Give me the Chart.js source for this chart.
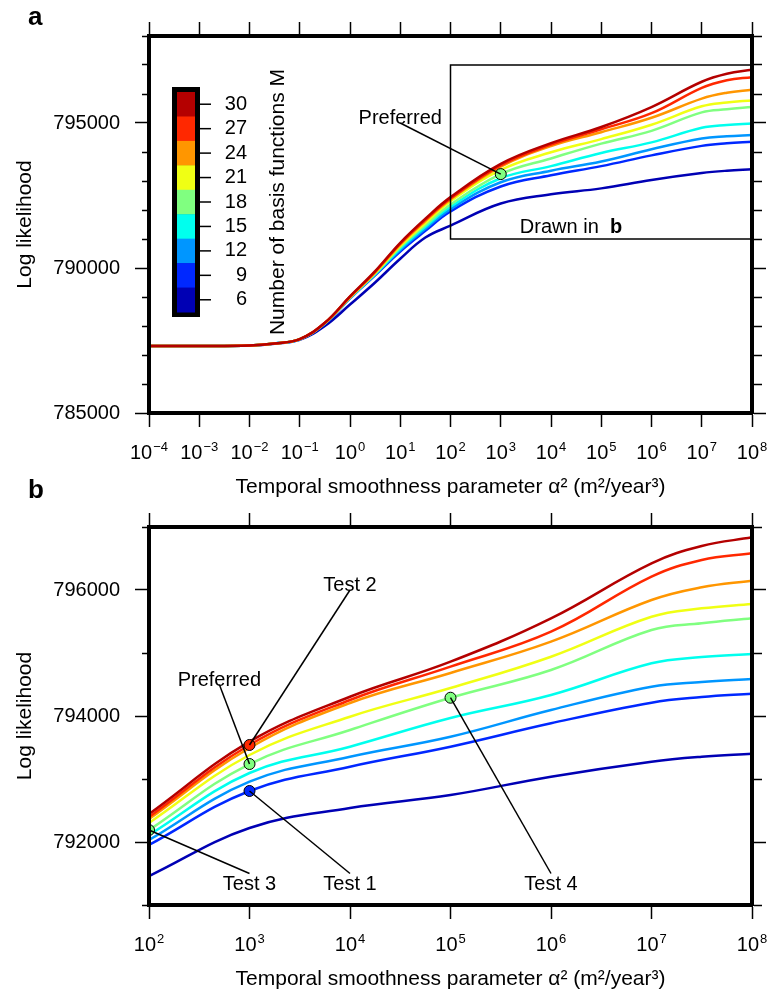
<!DOCTYPE html>
<html>
<head>
<meta charset="utf-8">
<script src="https://cdn.jsdelivr.net/npm/chart.js@4.4.0/dist/chart.umd.min.js"></script>
<style>
  body { margin: 0; background: #fff; }
  #wrap { position: relative; width: 771px; height: 994px; }
  canvas { position: absolute; left: 0; }
  #chartA { top: 0; }
  #chartB { top: 470px; }
</style>
</head>
<body>
<div id="wrap">
  <canvas id="chartA" width="771" height="510"></canvas>
  <canvas id="chartB" width="771" height="524"></canvas>
</div>
<script>
const FONT = "'Liberation Sans', Arial, Helvetica, sans-serif";

// temporal smoothness parameter alpha^2 (m^2/year^3) where the curves were read
const alpha = [1e-4, 1e-3, 1e-2, 0.0316, 0.1, 0.316, 1, 3.16, 10, 31.6, 100, 1e3, 1e4, 1e5, 1e6, 1e7, 3.16e7, 1e8];

// number of basis functions M, top of colour bar first
const basisM = [30, 27, 24, 21, 18, 15, 12, 9, 6];
const colors = ['#b40000', '#ff2800', '#ff9600', '#f0ff14', '#80ff80', '#00ffee', '#0096ff', '#0028ff', '#0000b4'];

// log likelihood for each M
const ll30 = [787310, 787312, 787330, 787400, 787550, 788110, 789020, 789890, 790870, 791700, 792444, 793592, 794306, 794862, 795550, 796423, 796698, 796836];
const ll27 = [787310, 787312, 787330, 787400, 787550, 788110, 789010, 789870, 790840, 791660, 792397, 793540, 794254, 794783, 795338, 796212, 796476, 796582];
const ll24 = [787310, 787312, 787330, 787400, 787550, 788105, 789000, 789850, 790810, 791620, 792365, 793492, 794206, 794683, 795180, 795841, 796043, 796148];
const ll21 = [787310, 787312, 787330, 787400, 787548, 788100, 788990, 789830, 790760, 791550, 792302, 793381, 793989, 794444, 794941, 795576, 795709, 795778];
const ll18 = [787310, 787312, 787330, 787400, 787546, 788095, 788980, 789810, 790720, 791480, 792190, 793238, 793778, 794290, 794730, 795365, 795471, 795551];
const ll15 = [787310, 787312, 787330, 787398, 787544, 788090, 788970, 789790, 790670, 791420, 792111, 793095, 793513, 793968, 794333, 794836, 794935, 794984];
const ll12 = [787310, 787312, 787330, 787396, 787542, 788085, 788960, 789770, 790620, 791350, 792032, 792957, 793354, 793671, 794095, 794465, 794540, 794587];
const ll9  = [787310, 787312, 787330, 787394, 787540, 788080, 788950, 789750, 790570, 791280, 791952, 792810, 793195, 793513, 793884, 794211, 794300, 794354];
const ll6  = [787310, 787312, 787328, 787390, 787520, 788000, 788740, 789500, 790320, 791050, 791460, 792222, 792540, 792746, 793037, 793275, 793354, 793402];
const series = [ll30, ll27, ll24, ll21, ll18, ll15, ll12, ll9, ll6];

// marked models
const markNames = ['Preferred', 'Test 1', 'Test 2', 'Test 3', 'Test 4'];
const markM = [18, 9, 27, 18, 18];
const markAlpha = [1e3, 1e3, 1e3, 1e2, 1e5];

// axis ticks
const xExpA = [-4, -3, -2, -1, 0, 1, 2, 3, 4, 5, 6, 7, 8];
const xExpB = [2, 3, 4, 5, 6, 7, 8];

function valueAt(m, a) {
    return series[basisM.indexOf(m)][alpha.indexOf(a)];
}

const decor = {
    id: 'decor',
    afterDraw(chart, args, o) {
        const ctx = chart.ctx, xs = chart.scales.x, ys = chart.scales.y, area = chart.chartArea;
        ctx.save();
        ctx.fillStyle = '#000';
        ctx.strokeStyle = '#000';

        // x tick labels as 10 with raised exponent
        xs.ticks.forEach(t => {
            const e = Math.round(Math.log10(t.value));
            const exp = e < 0 ? '\u2212' + (-e) : String(e);
            ctx.font = '20px ' + FONT;
            const w1 = ctx.measureText('10').width;
            ctx.font = '13px ' + FONT;
            const w2 = ctx.measureText(exp).width;
            const x0 = xs.getPixelForValue(t.value) - (w1 + w2 + 1) / 2;
            const yb = area.bottom + 46;
            ctx.textAlign = 'left';
            ctx.textBaseline = 'alphabetic';
            ctx.font = '20px ' + FONT;
            ctx.fillText('10', x0, yb);
            ctx.font = '13px ' + FONT;
            ctx.fillText(exp, x0 + w1 + 1, yb - 8);
        });

        // panel letter
        ctx.font = 'bold 26px ' + FONT;
        ctx.textAlign = 'left';
        ctx.fillText(o.letter, 28, o.letterY);

        // zoom box of panel b
        if (o.box) {
            const x1 = xs.getPixelForValue(o.box[0]), x2 = xs.getPixelForValue(o.box[2]);
            const y1 = ys.getPixelForValue(o.box[3]), y2 = ys.getPixelForValue(o.box[1]);
            ctx.lineWidth = 1.5;
            ctx.strokeRect(x1, y1, x2 - x1, y2 - y1);
            const tx = xs.getPixelForValue(o.boxText[0]), ty = ys.getPixelForValue(o.boxText[1]);
            ctx.font = '20px ' + FONT;
            const wa = ctx.measureText('Drawn in  ').width;
            ctx.font = 'bold 20px ' + FONT;
            const wb = ctx.measureText('b').width;
            ctx.font = '20px ' + FONT;
            ctx.fillText('Drawn in  ', tx - (wa + wb) / 2, ty);
            ctx.font = 'bold 20px ' + FONT;
            ctx.fillText('b', tx - (wa + wb) / 2 + wa, ty);
        }

        // annotations
        o.notes.forEach(n => {
            const a = markAlpha[n.mark];
            const px = xs.getPixelForValue(a), py = ys.getPixelForValue(valueAt(markM[n.mark], a));
            const ax = xs.getPixelForValue(n.at[0]), ay = ys.getPixelForValue(n.at[1]);
            ctx.lineWidth = 1.5;
            ctx.beginPath();
            ctx.moveTo(ax, ay);
            ctx.lineTo(px, py);
            ctx.stroke();
            ctx.font = '20px ' + FONT;
            ctx.textAlign = 'center';
            ctx.textBaseline = 'alphabetic';
            ctx.fillText(markNames[n.mark], ax, n.side === 'above' ? ay + 1 : ay + 16);
        });

        // colour bar
        if (o.colorbar) {
            const cb = o.colorbar;
            ctx.fillStyle = '#000';
            ctx.fillRect(cb.x, cb.y, cb.w, cb.h);
            const bw = 5;
            const bh = (cb.h - 2 * bw) / basisM.length;
            basisM.forEach((m, i) => {
                const yc = cb.y + bw + (i + 0.5) * bh;
                ctx.fillStyle = colors[i];
                ctx.fillRect(cb.x + bw, cb.y + bw + i * bh, cb.w - 2 * bw, bh + 0.5);
                ctx.lineWidth = 1.5;
                ctx.beginPath();
                ctx.moveTo(cb.x + cb.w, yc);
                ctx.lineTo(cb.x + cb.w + 11, yc);
                ctx.stroke();
                ctx.fillStyle = '#000';
                ctx.font = '20px ' + FONT;
                ctx.textAlign = 'right';
                ctx.textBaseline = 'middle';
                ctx.fillText(String(m), cb.x + cb.w + 47, yc);
            });
            ctx.save();
            ctx.translate(cb.x + 112, cb.y + cb.h / 2);
            ctx.rotate(-Math.PI / 2);
            ctx.font = '21px ' + FONT;
            ctx.textAlign = 'center';
            ctx.textBaseline = 'alphabetic';
            ctx.fillText('Number of basis functions M', 0, 0);
            ctx.restore();
        }
        ctx.restore();
    }
};

function makeChart(id, o) {
    const start = alpha.indexOf(o.xMin);
    const lines = series.map((s, i) => ({
        label: 'M = ' + basisM[i],
        data: alpha.slice(start).map((a, j) => ({ x: a, y: s[start + j] })),
        borderColor: colors[i],
        borderWidth: 2.5,
        pointRadius: 0,
        fill: false,
        tension: 0.4,
        order: 1
    }));
    const marks = o.marks.map(k => ({
        label: markNames[k],
        data: [{ x: markAlpha[k], y: valueAt(markM[k], markAlpha[k]) }],
        showLine: false,
        pointRadius: 5.5,
        pointBackgroundColor: colors[basisM.indexOf(markM[k])],
        pointBorderColor: '#000',
        pointBorderWidth: 1,
        order: 0
    }));

    const exps = o.xExp;
    const xBase = {
        type: 'logarithmic',
        min: o.xMin,
        max: 1e8,
        afterBuildTicks: s => { s.ticks = exps.map(e => ({ value: Math.pow(10, e) })); },
        ticks: { display: false },
        grid: { drawOnChartArea: false, tickLength: 14, tickWidth: 1.5, tickColor: '#000' },
        border: { display: true, width: 4, color: '#000', z: 1 }
    };
    const isMajor = v => Math.abs(v % o.labelStep) < 1e-6;
    const yBase = {
        type: 'linear',
        min: o.yMin,
        max: o.yMax,
        grid: { drawOnChartArea: false, tickLength: 14, tickWidth: 1.5, tickColor: '#000' },
        border: { display: true, width: 4, color: '#000', z: 1 }
    };

    return new Chart(document.getElementById(id), {
        type: 'line',
        data: { datasets: marks.concat(lines) },
        options: {
            responsive: false,
            animation: false,
            devicePixelRatio: 1,
            layout: { padding: 0 },
            scales: {
                x: Object.assign({}, xBase, {
                    position: 'bottom',
                    afterFit: s => { s.height = o.bottomH; },
                    title: {
                        display: true,
                        text: 'Temporal smoothness parameter \u03b1\u00b2 (m\u00b2/year\u00b3)',
                        color: '#000',
                        font: { family: FONT, size: 21 },
                        padding: { top: 0, bottom: o.titlePad }
                    }
                }),
                x2: Object.assign({}, xBase, {
                    position: 'top',
                    afterFit: s => { s.height = o.topH; }
                }),
                y: Object.assign({}, yBase, {
                    position: 'left',
                    afterFit: s => { s.width = 149; },
                    ticks: {
                        stepSize: 1000,
                        autoSkip: false,
                        padding: 15,
                        color: '#000',
                        font: { family: FONT, size: 20 },
                        callback: v => isMajor(v) ? String(v) : ''
                    },
                    grid: Object.assign({}, yBase.grid, {
                        tickBorderDash: c => isMajor(c.tick.value) ? [] : [0, 7, 7, 100]
                    }),
                    title: {
                        display: true,
                        text: 'Log likelihood',
                        color: '#000',
                        font: { family: FONT, size: 21 },
                        padding: { top: 13, bottom: 0 }
                    }
                }),
                y2: Object.assign({}, yBase, {
                    position: 'right',
                    afterFit: s => { s.width = 19; },
                    ticks: { stepSize: 1000, autoSkip: false, display: false },
                    grid: Object.assign({}, yBase.grid, {
                        tickBorderDash: c => isMajor(c.tick.value) ? [] : [8, 100]
                    })
                })
            },
            plugins: {
                legend: { display: false },
                tooltip: { enabled: false },
                decor: o.decor
            }
        },
        plugins: [decor]
    });
}

Chart.defaults.font.family = FONT;
Chart.defaults.color = '#000';

makeChart('chartA', {
    xMin: 1e-4, xExp: xExpA, yMin: 785000, yMax: 798000, labelStep: 5000,
    topH: 36, bottomH: 97, titlePad: 10,
    marks: [0],
    decor: {
        letter: 'a', letterY: 25,
        box: [100, 791000, 1e8, 797000],
        boxText: [2.5e4, 791220],
        notes: [{ mark: 0, at: [10, 795000], side: 'above' }],
        colorbar: { x: 172, y: 87, w: 28, h: 230 }
    }
});

makeChart('chartB', {
    xMin: 100, xExp: xExpB, yMin: 791000, yMax: 797000, labelStep: 2000,
    topH: 57, bottomH: 89, titlePad: 2,
    marks: [0, 1, 2, 3, 4],
    decor: {
        letter: 'b', letterY: 28,
        notes: [
            { mark: 0, at: [501, 794500], side: 'above' },
            { mark: 2, at: [1e4, 796000], side: 'above' },
            { mark: 3, at: [1e3, 791500], side: 'below' },
            { mark: 1, at: [1e4, 791500], side: 'below' },
            { mark: 4, at: [1e6, 791500], side: 'below' }
        ]
    }
});
</script>
</body>
</html>
